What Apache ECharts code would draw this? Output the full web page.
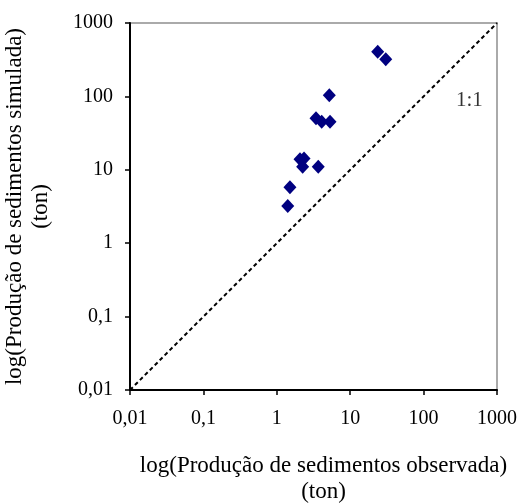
<!DOCTYPE html>
<html><head><meta charset="utf-8">
<script src="https://cdn.jsdelivr.net/npm/echarts@6/dist/echarts.min.js"></script>
<style>html,body{margin:0;padding:0;background:#fff}#c{width:524px;height:503px}</style>
</head><body><div id="c"></div>
<script>
const observed = [23.7, 30.5, 5.19, 3.42, 4.09, 5.31, 2.07, 2.35, 2.25, 3.67, 1.51, 1.41];
const simulated = [406, 320, 104, 50.3, 45.2, 45.2, 13.9, 14.3, 11.0, 11.0, 5.78, 3.21];
const lineX = [0.01, 1000];
const lineY = [0.01, 1000];
const lineLabel = '1:1';
const labelPos = [420, 88];
const xTitle = 'log(Produção de sedimentos observada)\n(ton)';
const yTitle = 'log(Produção de sedimentos simulada)\n(ton)';

const font = '"Liberation Serif", "Times New Roman", serif';
const fmt = v => String(v).replace('.', ',');
const chart = echarts.init(document.getElementById('c'));
const axisCommon = {
  type: 'log', logBase: 10, min: 0.01, max: 1000,
  axisLine: {show: true, lineStyle: {color: '#000', width: 2}},
  axisTick: {show: true, inside: false, length: 5, lineStyle: {color: '#000', width: 1.5}},
  minorTick: {show: false},
  splitLine: {show: false},
  axisLabel: {formatter: fmt, color: '#000', fontFamily: font, fontSize: 20},
  nameLocation: 'middle',
  nameTextStyle: {color: '#000', fontFamily: font, fontSize: 23, lineHeight: 26}
};
chart.setOption({
  animation: false,
  grid: {left: 130, right: 27, top: 23, bottom: 113, show: true, borderColor: '#aaa', borderWidth: 2, outerBoundsMode: 'none', containLabel: false},
  xAxis: Object.assign({}, axisCommon, {name: xTitle, nameGap: 63,
    nameTextStyle: Object.assign({}, axisCommon.nameTextStyle, {padding: [0, 0, 0, 20]}),
    axisLabel: Object.assign({}, axisCommon.axisLabel, {margin: 19})}),
  yAxis: Object.assign({}, axisCommon, {name: yTitle, nameGap: 76,
    axisLabel: Object.assign({}, axisCommon.axisLabel, {margin: 17})}),
  series: [
    {type: 'line', data: lineX.map((x, i) => [x, lineY[i]]), symbol: 'none',
     lineStyle: {color: '#000', width: 2, type: [4, 3]}, silent: true},
    {type: 'scatter', data: observed.map((x, i) => [x, simulated[i]]),
     symbol: 'diamond', symbolSize: [13, 14],
     itemStyle: {color: '#000080', opacity: 1}},
    {type: 'scatter', data: [labelPos], symbolSize: 0,
     label: {show: true, position: 'inside', formatter: lineLabel, color: '#000', fontFamily: font, fontSize: 21}}
  ]
});
</script></body></html>
